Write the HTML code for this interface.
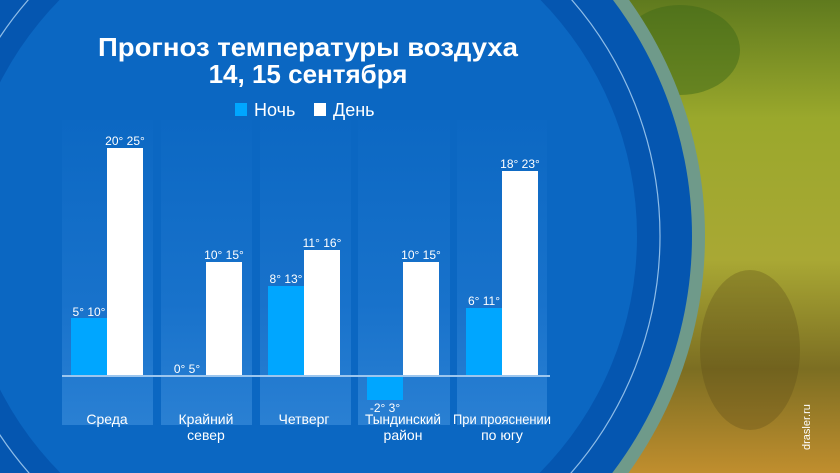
<!DOCTYPE html>
<html><head><meta charset="utf-8"><style>
html,body{margin:0;padding:0;width:840px;height:473px;overflow:hidden;background:#0556b0}
svg{display:block;position:absolute;left:0;top:0}
text{font-family:"Liberation Sans",sans-serif;fill:#fff}
</style></head><body>
<svg width="840" height="473" viewBox="0 0 840 473">
<defs>
<linearGradient id="ph" x1="0" y1="0" x2="0" y2="1">
<stop offset="0" stop-color="#5f7a1e"/><stop offset="0.25" stop-color="#9aa82c"/>
<stop offset="0.55" stop-color="#a9a834"/><stop offset="0.78" stop-color="#7c6e22"/>
<stop offset="1" stop-color="#c08e2e"/></linearGradient>
<linearGradient id="pn" x1="0" y1="0" x2="0" y2="1">
<stop offset="0" stop-color="#0c68c3"/><stop offset="0.6" stop-color="#1872cb"/><stop offset="1" stop-color="#2a80d3"/></linearGradient>
</defs>
<rect x="560" y="0" width="280" height="473" fill="url(#ph)"/>
<ellipse cx="680" cy="50" rx="60" ry="45" fill="#3f6a18" opacity="0.5"/>
<ellipse cx="750" cy="350" rx="50" ry="80" fill="#5a4a18" opacity="0.3"/>
<circle cx="300" cy="236" r="405" fill="#6f9a8a"/>
<circle cx="300" cy="236" r="392" fill="#0556b0"/>
<circle cx="300" cy="236" r="360" fill="none" stroke="#8fbde8" stroke-width="1.2"/>
<circle cx="300" cy="236" r="337" fill="#0b67c2"/>
<rect x="62" y="120" width="91" height="305" fill="url(#pn)"/>
<rect x="161" y="120" width="91" height="305" fill="url(#pn)"/>
<rect x="260" y="120" width="91" height="305" fill="url(#pn)"/>
<rect x="358" y="120" width="92" height="305" fill="url(#pn)"/>
<rect x="457" y="120" width="90" height="305" fill="url(#pn)"/>
<text x="308" y="56" font-size="26" font-weight="bold" text-anchor="middle" textLength="420" lengthAdjust="spacingAndGlyphs">Прогноз температуры воздуха</text>
<text x="308" y="83" font-size="26" font-weight="bold" text-anchor="middle">14, 15 сентября</text>
<rect x="235" y="103" width="12" height="13" fill="#00a6ff"/>
<text x="254" y="116" font-size="18">Ночь</text>
<rect x="314" y="103" width="12" height="13" fill="#fff"/>
<text x="333" y="116" font-size="18">День</text>
<g fill="#00a6ff">
<rect x="71" y="318" width="36" height="58"/>
<rect x="268" y="286" width="36" height="90"/>
<rect x="367" y="376" width="36" height="24"/>
<rect x="466" y="308" width="36" height="68"/>
</g>
<g fill="#fff">
<rect x="107" y="148" width="36" height="228"/>
<rect x="206" y="262" width="36" height="114"/>
<rect x="304" y="250" width="36" height="126"/>
<rect x="403" y="262" width="36" height="114"/>
<rect x="502" y="171" width="36" height="205"/>
</g>
<rect x="62" y="375" width="488" height="2" fill="#9cc6ee"/>
<g font-size="12" text-anchor="middle">
<text x="125" y="145">20°  25°</text>
<text x="89" y="316">5°  10°</text>
<text x="224" y="259">10°  15°</text>
<text x="187" y="373">0°  5°</text>
<text x="322" y="247">11°  16°</text>
<text x="286" y="283">8°  13°</text>
<text x="421" y="259">10°  15°</text>
<text x="385" y="412">-2°  3°</text>
<text x="520" y="168">18°  23°</text>
<text x="484" y="305">6°  11°</text>
</g>
<g font-size="14" text-anchor="middle">
<text x="107" y="424">Среда</text>
<text x="206" y="424">Крайний</text><text x="206" y="440">север</text>
<text x="304" y="424">Четверг</text>
<text x="403" y="424" textLength="76" lengthAdjust="spacingAndGlyphs">Тындинский</text><text x="403" y="440">район</text>
<text x="502" y="424" textLength="98" lengthAdjust="spacingAndGlyphs">При прояснении</text><text x="502" y="440">по югу</text>
</g>
<text x="0" y="0" font-size="11" transform="translate(810,450) rotate(-90)" fill="#e8e8e8">drasler.ru</text>
</svg>
</body></html>
